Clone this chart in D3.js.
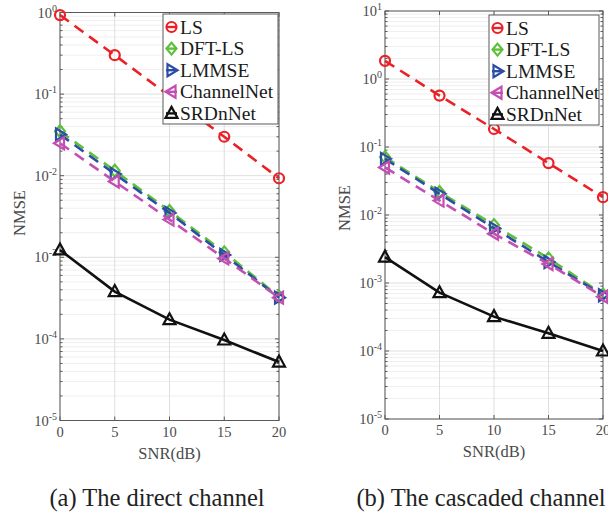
<!DOCTYPE html>
<html>
<head>
<meta charset="utf-8">
<script src="https://cdn.jsdelivr.net/npm/d3@7"></script>
<style>
  body { margin: 0; background: #fff; }
  svg { display: block; font-family: "Liberation Serif", "Times New Roman", serif; }
</style>
</head>
<body>
<svg id="chart" width="608" height="514"></svg>
<script>
// x axis values
var snr = [0, 5, 10, 15, 20];
var methods = ["LS", "DFT-LS", "LMMSE", "ChannelNet", "SRDnNet"];

// (a) the direct channel
var directLS         = [0.93, 0.30, 0.095, 0.030, 0.0093];
var directDFT        = [0.035, 0.0115, 0.0037, 0.00115, 0.00033];
var directLMMSE      = [0.032, 0.0105, 0.0035, 0.00107, 0.00032];
var directChannelNet = [0.025, 0.0085, 0.0029, 0.00097, 0.00032];
var directSRDnNet    = [0.00123, 0.00038, 0.000172, 0.000097, 0.000052];

// (b) the cascaded channel
var cascLS         = [1.85, 0.57, 0.184, 0.058, 0.0183];
var cascDFT        = [0.071, 0.0218, 0.0071, 0.0023, 0.00068];
var cascLMMSE      = [0.067, 0.0205, 0.0064, 0.00204, 0.00066];
var cascChannelNet = [0.050, 0.0163, 0.0053, 0.0019, 0.00063];
var cascSRDnNet    = [0.0024, 0.00072, 0.00032, 0.000182, 0.0001];

var directExps = [0, -1, -2, -3, -4, -5];
var cascExps = [1, 0, -1, -2, -3, -4, -5];

var styles = [
  {color: "#ea2127", marker: "circle", dash: "11,7"},
  {color: "#5dbf3a", marker: "diamond", dash: "11,7"},
  {color: "#2b4da6", marker: "tright", dash: "11,7"},
  {color: "#c24fb1", marker: "tleft", dash: "11,7"},
  {color: "#111111", marker: "tup", dash: null}
];

var svg = d3.select("#chart");

function markerPath(type) {
  if (type === "diamond") return "M0,-6L5,0L0,6L-5,0Z";
  if (type === "tright") return "M6,0L-4,-6L-4,6Z";
  if (type === "tleft") return "M-6,0L4,-6L4,6Z";
  if (type === "tup") return "M0,-6.5L6,4.5L-6,4.5Z";
  return null;
}

function drawMarker(g, type, color, x, y) {
  if (type === "circle") {
    g.append("circle").attr("cx", x).attr("cy", y).attr("r", 5)
      .attr("fill", "none").attr("stroke", color).attr("stroke-width", 2.2);
  } else {
    g.append("path").attr("d", markerPath(type))
      .attr("transform", "translate(" + x + "," + y + ")")
      .attr("fill", "none").attr("stroke", color).attr("stroke-width", 2.2)
      .attr("stroke-linejoin", "miter");
  }
}

function drawPanel(p) {
  var g = svg.append("g");
  var x = d3.scaleLinear().domain([0, 20]).range([p.x0, p.x1]);
  var y = d3.scaleLog().domain([Math.pow(10, d3.min(p.exps)), Math.pow(10, d3.max(p.exps))])
            .range([p.y1, p.y0]);

  // minor grid
  var minors = [];
  p.exps.forEach(function (e) {
    if (e === d3.max(p.exps)) return;
    for (var k = 2; k <= 9; k++) minors.push(k * Math.pow(10, e));
  });
  g.selectAll(".mg").data(minors).enter().append("line")
    .attr("x1", p.x0).attr("x2", p.x1)
    .attr("y1", function (d) { return y(d); }).attr("y2", function (d) { return y(d); })
    .attr("stroke", "#efefef").attr("stroke-width", 1);
  // major grid
  g.selectAll(".gy").data(p.exps).enter().append("line")
    .attr("x1", p.x0).attr("x2", p.x1)
    .attr("y1", function (d) { return y(Math.pow(10, d)); }).attr("y2", function (d) { return y(Math.pow(10, d)); })
    .attr("stroke", "#dedede").attr("stroke-width", 1);
  g.selectAll(".gx").data(snr).enter().append("line")
    .attr("x1", function (d) { return x(d); }).attr("x2", function (d) { return x(d); })
    .attr("y1", p.y0).attr("y2", p.y1)
    .attr("stroke", "#dedede").attr("stroke-width", 1);

  // box
  g.append("rect").attr("x", p.x0).attr("y", p.y0).attr("width", p.x1 - p.x0).attr("height", p.y1 - p.y0)
    .attr("fill", "none").attr("stroke", "#5a5a5a").attr("stroke-width", 1);

  // ticks
  snr.forEach(function (d) {
    g.append("line").attr("x1", x(d)).attr("x2", x(d)).attr("y1", p.y1).attr("y2", p.y1 - 4).attr("stroke", "#5a5a5a");
    g.append("line").attr("x1", x(d)).attr("x2", x(d)).attr("y1", p.y0).attr("y2", p.y0 + 4).attr("stroke", "#5a5a5a");
  });
  p.exps.forEach(function (e) {
    var yy = y(Math.pow(10, e));
    g.append("line").attr("x1", p.x0).attr("x2", p.x0 + 4).attr("y1", yy).attr("y2", yy).attr("stroke", "#5a5a5a");
    g.append("line").attr("x1", p.x1).attr("x2", p.x1 - 4).attr("y1", yy).attr("y2", yy).attr("stroke", "#5a5a5a");
  });
  minors.forEach(function (m) {
    var yy = y(m);
    g.append("line").attr("x1", p.x0).attr("x2", p.x0 + 2.5).attr("y1", yy).attr("y2", yy).attr("stroke", "#5a5a5a");
    g.append("line").attr("x1", p.x1).attr("x2", p.x1 - 2.5).attr("y1", yy).attr("y2", yy).attr("stroke", "#5a5a5a");
  });

  // tick labels
  snr.forEach(function (d) {
    g.append("text").attr("x", x(d)).attr("y", p.y1 + 16).attr("text-anchor", "middle")
      .attr("font-size", 14.5).attr("fill", "#4a4a4a").text(d);
  });
  p.exps.forEach(function (e) {
    var t = g.append("text").attr("x", p.x0 - 3).attr("y", y(Math.pow(10, e)) + 5)
      .attr("text-anchor", "end").attr("fill", "#4a4a4a").attr("font-size", 14.5);
    t.append("tspan").text("10");
    t.append("tspan").attr("dy", -6).attr("font-size", 10).text(e);
  });

  // axis labels
  g.append("text").attr("x", (p.x0 + p.x1) / 2).attr("y", p.y1 + 38).attr("text-anchor", "middle")
    .attr("font-size", 16.5).attr("fill", "#4a4a4a").text("SNR(dB)");
  g.append("text").attr("transform", "translate(" + (p.x0 - 35) + "," + p.labelY + ") rotate(-90)")
    .attr("text-anchor", "middle").attr("font-size", 16.5).attr("fill", "#4a4a4a").text("NMSE");

  // series
  var line = d3.line().x(function (d, i) { return x(snr[i]); }).y(function (d) { return y(d); });
  p.series.forEach(function (vals, si) {
    var st = styles[si];
    g.append("path").datum(vals).attr("d", line).attr("fill", "none")
      .attr("stroke", st.color).attr("stroke-width", 2.6)
      .attr("stroke-dasharray", st.dash);
    vals.forEach(function (v, i) { drawMarker(g, st.marker, st.color, x(snr[i]), y(v)); });
  });

  // legend
  var lg = g.append("g");
  lg.append("rect").attr("x", p.lx).attr("y", p.ly).attr("width", p.lw).attr("height", 110)
    .attr("fill", "#fff").attr("stroke", "#5a5a5a").attr("stroke-width", 1);
  methods.forEach(function (name, i) {
    var yy = p.ly + 13 + i * 21.6;
    var st = styles[i];
    lg.append("line").attr("x1", p.lx + 3).attr("x2", p.lx + 14).attr("y1", yy).attr("y2", yy)
      .attr("stroke", st.color).attr("stroke-width", 2.4);
    drawMarker(lg, st.marker, st.color, p.lx + 8.5, yy);
    lg.append("text").attr("x", p.lx + 17).attr("y", yy + 6.5).attr("font-size", 19.5)
      .attr("fill", "#1a1a1a").text(name);
  });

  // caption
  svg.append("text").attr("x", p.capX).attr("y", 506).attr("text-anchor", "middle")
    .attr("font-size", 24.5).attr("fill", "#222").text(p.caption);
}

drawPanel({
  x0: 60, x1: 279, y0: 12.5, y1: 420.5, exps: directExps,
  series: [directLS, directDFT, directLMMSE, directChannelNet, directSRDnNet],
  lx: 163, ly: 14, lw: 115, labelY: 213,
  caption: "(a) The direct channel", capX: 157
});
drawPanel({
  x0: 385, x1: 603, y0: 11, y1: 419, exps: cascExps,
  series: [cascLS, cascDFT, cascLMMSE, cascChannelNet, cascSRDnNet],
  lx: 489, ly: 15, lw: 110, labelY: 208,
  caption: "(b) The cascaded channel", capX: 481
});
</script>
</body>
</html>
